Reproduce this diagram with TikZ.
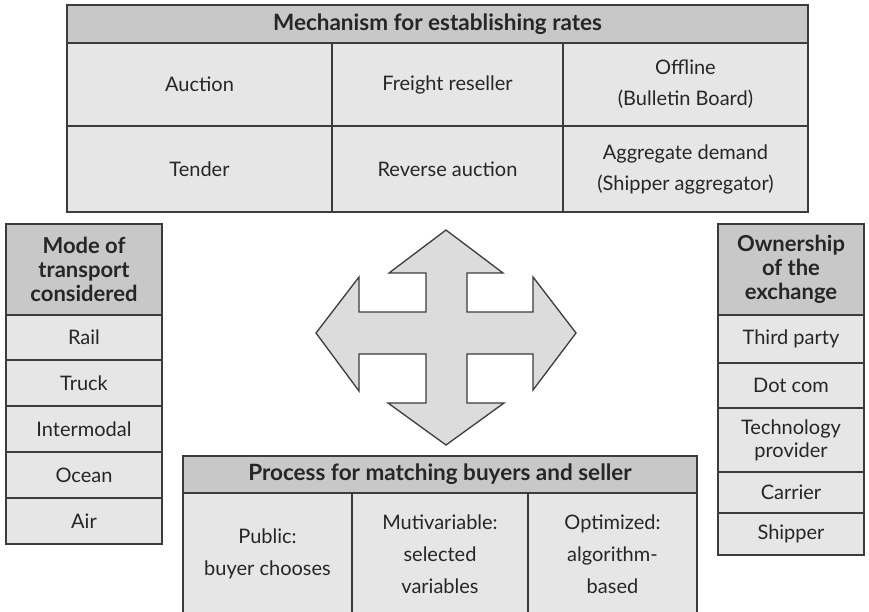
\documentclass[tikz,border=0pt]{standalone}
\usepackage{fontspec}
\setmainfont{Lato}
\definecolor{linegray}{HTML}{3C3C3C}
\definecolor{cellgray}{HTML}{E6E6E7}
\definecolor{hdrgray}{HTML}{C8C8C9}
\definecolor{arrowgray}{HTML}{DCDCDD}
\tikzset{
  cellbox/.style={draw=linegray, line width=1.3pt, fill=cellgray, inner sep=0pt,
    align=center, text=black!85, font=\fontsize{20}{31}\selectfont},
  hdrbox/.style={cellbox, fill=hdrgray, font=\fontsize{22}{24}\selectfont\bfseries},
  bighdr/.style={cellbox, fill=hdrgray, font=\fontsize{22.5}{24}\selectfont\bfseries},
  crossarrow/.style={draw=linegray, line width=1.3pt, fill=arrowgray, line join=miter},
}
\begin{document}
\begin{tikzpicture}[x=1pt, y=-1pt]
\useasboundingbox (0,0) rectangle (869,611);
\fill[white] (0,0) rectangle (869,611);
% Top table
\node[bighdr, minimum width=741pt, minimum height=38pt] (mech) at (437.5,24) {Mechanism for establishing rates};
\node[cellbox, minimum width=265pt, minimum height=83pt] (auction) at (199.5,84.5) {Auction};
\node[cellbox, minimum width=231pt, minimum height=83pt] (freight) at (447.5,84.5) {Freight reseller};
\node[cellbox, minimum width=245pt, minimum height=83pt] (offline) at (685.5,84.5) {Offline\\(Bulletin Board)};
\node[cellbox, minimum width=265pt, minimum height=86pt] (tender) at (199.5,169) {Tender};
\node[cellbox, minimum width=231pt, minimum height=86pt] (reverse) at (447.5,169) {Reverse auction};
\node[cellbox, minimum width=245pt, minimum height=86pt] (aggr) at (685.5,169) {Aggregate demand\\(Shipper aggregator)};
% Left column
\node[hdrbox, minimum width=156pt, minimum height=91pt] (mode) at (84,269.5) {Mode of\\transport\\considered};
\node[cellbox, minimum width=156pt, minimum height=45pt] (rail) at (84,337.5) {Rail};
\node[cellbox, minimum width=156pt, minimum height=46pt] (truck) at (84,383) {Truck};
\node[cellbox, minimum width=156pt, minimum height=46pt] (inter) at (84,429) {Intermodal};
\node[cellbox, minimum width=156pt, minimum height=46pt] (ocean) at (84,475) {Ocean};
\node[cellbox, minimum width=156pt, minimum height=46pt] (air) at (84,521) {Air};
% Right column
\node[hdrbox, minimum width=146pt, minimum height=91pt] (own) at (791,269.5) {Ownership\\of the\\exchange};
\node[cellbox, minimum width=146pt, minimum height=48pt] (third) at (791,339) {Third party};
\node[cellbox, minimum width=146pt, minimum height=45pt] (dotcom) at (791,385.5) {Dot com};
\node[cellbox, minimum width=146pt, minimum height=64pt, font=\fontsize{20}{23}\selectfont] (tech) at (791,440) {Technology\\provider};
\node[cellbox, minimum width=146pt, minimum height=41pt] (carrier) at (791,492.5) {Carrier};
\node[cellbox, minimum width=146pt, minimum height=42pt] (shipper) at (791,534) {Shipper};
% Bottom table
\node[bighdr, minimum width=514pt, minimum height=37pt] (proc) at (440,474.5) {Process for matching buyers and seller};
\node[cellbox, minimum width=169pt, minimum height=122pt, font=\fontsize{20}{32}\selectfont] (public) at (267.5,554) {Public:\\buyer chooses};
\node[cellbox, minimum width=176pt, minimum height=122pt, font=\fontsize{20}{32}\selectfont] (multi) at (440,554) {Mutivariable:\\selected\\variables};
\node[cellbox, minimum width=169pt, minimum height=122pt, font=\fontsize{20}{32}\selectfont] (optim) at (612.5,554) {Optimized:\\algorithm-\\based};
% Four-way arrow
\draw[crossarrow] (446,230) -- (503,273) -- (467,273) -- (467,312) -- (533,312) -- (533,277)
  -- (576,333) -- (533,390) -- (533,354) -- (467,354) -- (467,403) -- (504,403)
  -- (446,445) -- (388,403) -- (426,403) -- (426,354) -- (359,354) -- (359,391)
  -- (316,333) -- (359,277) -- (359,312) -- (426,312) -- (426,273) -- (389,273) -- cycle;
\end{tikzpicture}
\end{document}
